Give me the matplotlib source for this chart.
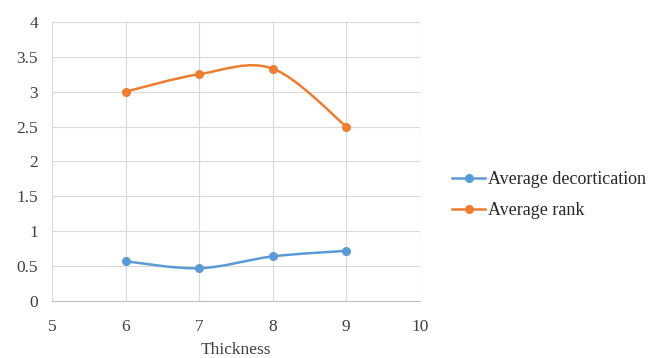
import matplotlib
matplotlib.use("Agg")
import matplotlib.pyplot as plt
import numpy as np
from matplotlib.path import Path
from matplotlib.patches import PathPatch
from matplotlib.lines import Line2D

thickness = [6, 7, 8, 9]
avg_decortication = [0.57, 0.47, 0.64, 0.72]
avg_rank = [3.0, 3.25, 3.33, 2.5]

BLUE = "#5B9BD5"
ORANGE = "#ED7D31"

plt.rcParams["font.family"] = ["Liberation Serif", "DejaVu Serif"]


def smooth_path(x, y, tension=1 / 6):
    """Bezier path through the points, like a spreadsheet 'smoothed line'."""
    pts = np.column_stack([x, y]).astype(float)
    n = len(pts)
    verts = [pts[0]]
    codes = [Path.MOVETO]
    for i in range(n - 1):
        p0 = pts[i - 1] if i > 0 else pts[i]
        p1 = pts[i]
        p2 = pts[i + 1]
        p3 = pts[i + 2] if i + 2 < n else pts[i + 1]
        c1 = p1 + (p2 - p0) * tension
        c2 = p2 - (p3 - p1) * tension
        verts += [c1, c2, p2]
        codes += [Path.CURVE4] * 3
    return Path(verts, codes)


fig = plt.figure(figsize=(6.51, 3.58), dpi=100)
ax = fig.add_axes([0.0799, 0.159, 0.565, 0.78])

for ys, color in [(avg_decortication, BLUE), (avg_rank, ORANGE)]:
    ax.add_patch(PathPatch(smooth_path(thickness, ys), facecolor="none",
                           edgecolor=color, linewidth=1.8, zorder=3))
    ax.plot(thickness, ys, linestyle="none", marker="o", markersize=5.5,
            color=color, zorder=4)

ax.set_xlim(5, 10)
ax.set_ylim(0, 4)
ax.set_xticks(range(5, 11))
ax.set_yticks(np.arange(0, 4.01, 0.5))
ax.set_yticklabels(["0", "0.5", "1", "1.5", "2", "2.5", "3", "3.5", "4"])
ax.grid(True, color="#d9d9d9", linewidth=0.8)
ax.set_axisbelow(True)
for side in ["top", "right", "left"]:
    ax.spines[side].set_visible(False)
ax.spines["bottom"].set_color("#bfbfbf")
ax.tick_params(length=0, labelsize=12.5, colors="#404040")
ax.tick_params(axis="x", pad=13)
ax.tick_params(axis="y", pad=10)
ax.set_xlabel("Thickness", fontsize=12.5, color="#404040", labelpad=5)

handles = [
    Line2D([], [], color=BLUE, marker="o", markersize=5.5, linewidth=1.8),
    Line2D([], [], color=ORANGE, marker="o", markersize=5.5, linewidth=1.8),
]
fig.legend(handles, ["Average decortication", "Average rank"],
           loc="center left", bbox_to_anchor=(0.695, 0.455), frameon=False,
           fontsize=13, handlelength=1.8, handletextpad=0.15,
           labelspacing=0.75, labelcolor="#262626", borderpad=0, borderaxespad=0)

fig.savefig("out.png", dpi=100)
